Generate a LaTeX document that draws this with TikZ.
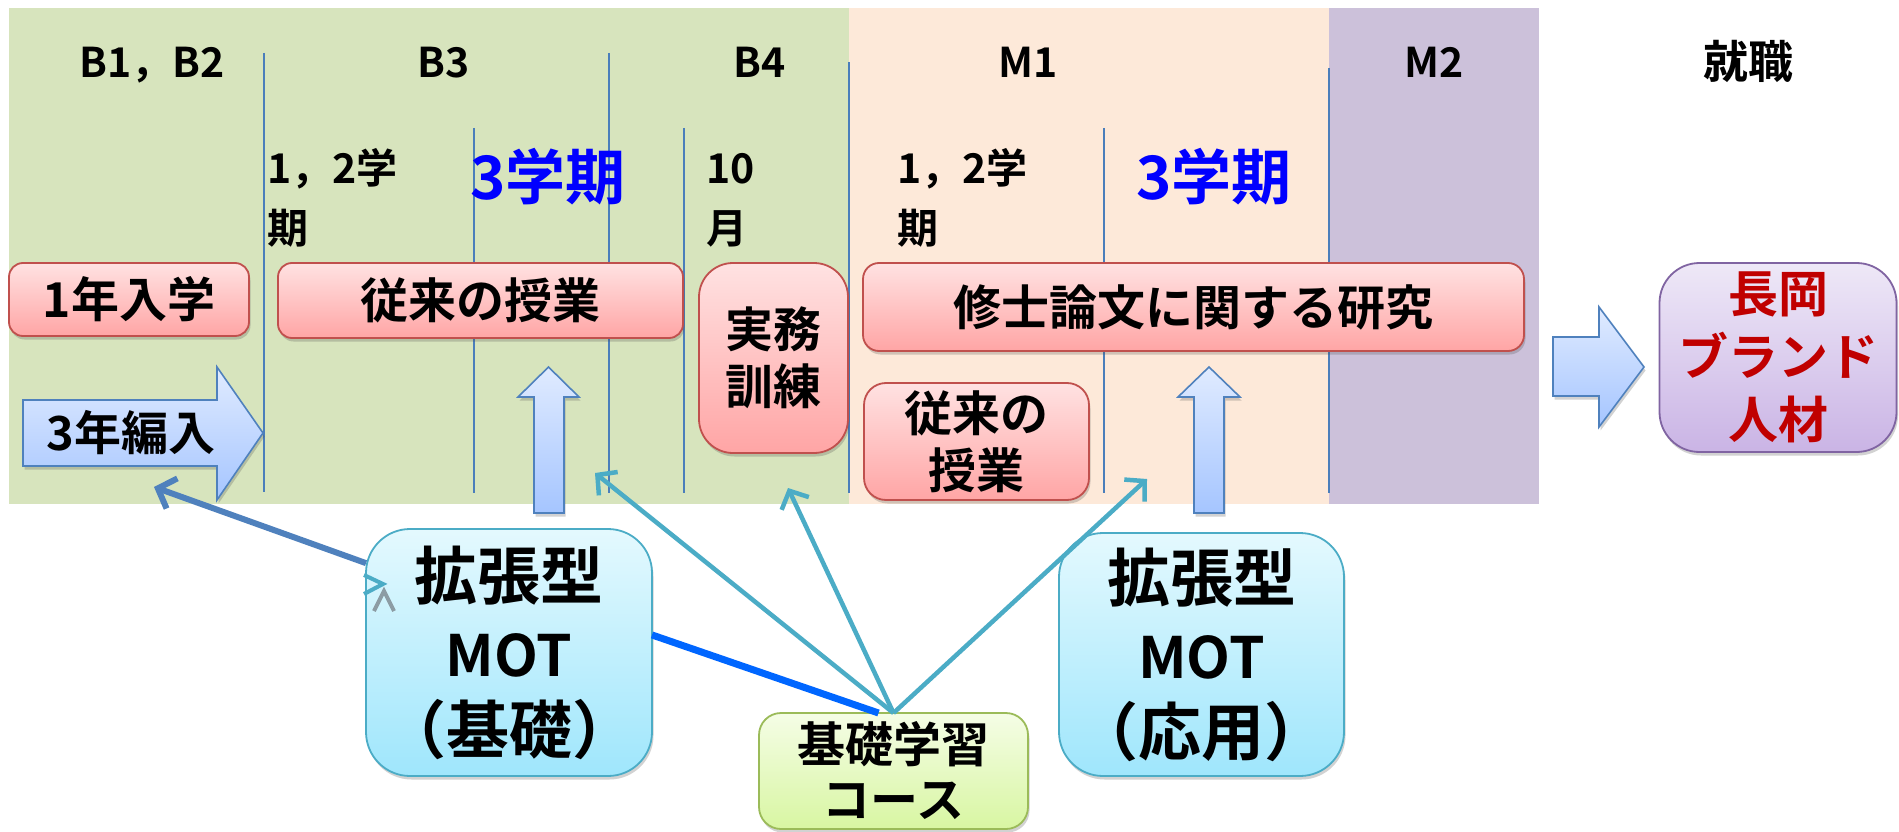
\documentclass[tikz,border=0pt]{standalone}
\usepackage{fontspec}
\setmainfont{Noto Sans CJK JP}[UprightFont={* Bold}]
\usetikzlibrary{arrows.meta,shadows,calc}
\definecolor{bgG}{HTML}{D7E4BD}
\definecolor{bgP}{HTML}{FDE9D9}
\definecolor{bgV}{HTML}{CCC1DA}
\definecolor{vline}{HTML}{4A7EBB}
\definecolor{redB}{HTML}{C0504D}
\definecolor{redT}{HTML}{FFE2E2}
\definecolor{redD}{HTML}{FFA5A5}
\definecolor{cyB}{HTML}{4BACC6}
\definecolor{cyT}{HTML}{E4F9FE}
\definecolor{cyD}{HTML}{9FE6FC}
\definecolor{grB}{HTML}{9BBB59}
\definecolor{grT}{HTML}{F5FDE6}
\definecolor{grD}{HTML}{D8F6A2}
\definecolor{puB}{HTML}{8064A2}
\definecolor{puT}{HTML}{EEE8F7}
\definecolor{puD}{HTML}{CAB4E5}
\definecolor{arB}{HTML}{4F81BD}
\definecolor{arT}{HTML}{E0EBFF}
\definecolor{arD}{HTML}{A5C5FF}
\definecolor{tealA}{HTML}{4BACC6}
\definecolor{steel}{HTML}{4F81BD}
\definecolor{blueL}{HTML}{0066FF}
\definecolor{dred}{HTML}{C00000}
\definecolor{semblue}{HTML}{0000FF}
\definecolor{caret}{HTML}{8C9CA4}
\begin{document}
\begin{tikzpicture}[x=1pt,y=-1pt,
  every node/.style={inner sep=0pt,outer sep=0pt},
  shad/.style={drop shadow={shadow xshift=1.5pt,shadow yshift=-3.5pt,opacity=.25,fill=black!70}},
  redbox/.style={shad,draw=redB,line width=1.8pt,top color=redT,bottom color=redD,rounded corners=14pt,align=center,font=\fontsize{48}{57}\selectfont},
  cybox/.style={shad,draw=cyB,line width=1.8pt,top color=cyT,bottom color=cyD,rounded corners=44pt,align=center,font=\fontsize{63}{77}\selectfont},
  grbox/.style={shad,draw=grB,line width=1.8pt,top color=grT,bottom color=grD,rounded corners=22pt,align=center,font=\fontsize{48}{55}\selectfont},
  pubox/.style={shad,draw=puB,line width=1.8pt,top color=puT,bottom color=puD,rounded corners=40pt,align=center,text=dred,font=\fontsize{50}{63}\selectfont},
  blockarrow/.style={shad,draw=arB,line width=1.6pt,top color=arT,bottom color=arD},
  hdr/.style={anchor=base,font=\fontsize{41}{41}\selectfont},
  sem/.style={anchor=base west,font=\fontsize{41}{41}\selectfont},
  semB/.style={anchor=base west,font=\fontsize{60}{60}\selectfont,text=semblue},
  tealarrow/.style={draw=tealA,line width=4.5pt,-{Straight Barb[length=14pt,width=30pt]}},
  steelarrow/.style={draw=steel,line width=6pt,-{Straight Barb[length=15pt,width=32pt]}},
  vl/.style={draw=vline,line width=1.5pt}]
\useasboundingbox (0,0) rectangle (1899,832);
\fill[white] (0,0) rectangle (1899,832);
% backgrounds
\fill[bgG] (9,8) rectangle (849,504);
\fill[bgP] (849,8) rectangle (1329,504);
\fill[bgV] (1329,8) rectangle (1539,504);
% vertical lines
\draw[vl] (264,53) -- (264,492);
\draw[vl] (474,128) -- (474,493);
\draw[vl] (609,53) -- (609,493);
\draw[vl] (684,128) -- (684,493);
\draw[vl] (849,62) -- (849,493);
\draw[vl] (1104,128) -- (1104,493);
\draw[vl] (1329,68) -- (1329,493);
% headers
\node[hdr] (hB12) at (152,78) {B1，B2};
\node[hdr] (hB3) at (444,78) {B3};
\node[hdr] (hB4) at (760,78) {B4};
\node[hdr] (hM1) at (1028,78) {M1};
\node[hdr] (hM2) at (1434,78) {M2};
\node[hdr,font=\fontsize{45}{45}\selectfont] (hJob) at (1748,79) {就職};
% semester labels
\node[sem] (s1a) at (267,183) {1，2学};
\node[sem] (s1b) at (267,243) {期};
\node[semB] (s3a) at (470,200) {3学期};
\node[sem] (s10a) at (706,183) {10};
\node[sem] (s10b) at (706,243) {月};
\node[sem] (s2a) at (897,183) {1，2学};
\node[sem] (s2b) at (897,243) {期};
\node[semB] (s3b) at (1136,200) {3学期};
% block arrows
\path[blockarrow] (23,400) -- (217,400) -- (217,367) -- (263,433) -- (217,500) -- (217,466) -- (23,466) -- cycle;
\node[font=\fontsize{47}{47}\selectfont] (e3) at (131,433) {3年編入};
\path[blockarrow] (534,513) -- (534,397) -- (518,397) -- (548.5,367) -- (579,397) -- (564,397) -- (564,513) -- cycle;
\path[blockarrow] (1194,513) -- (1194,397) -- (1178,397) -- (1209,367) -- (1240,397) -- (1224,397) -- (1224,513) -- cycle;
\path[blockarrow] (1553,337) -- (1599,337) -- (1599,307) -- (1644,367) -- (1599,427) -- (1599,396) -- (1553,396) -- cycle;
% boxes
\node[redbox,minimum width=240pt,minimum height=73pt] (n1) at (129,299.5) {1年入学};
\node[redbox,minimum width=405pt,minimum height=75pt] (n2) at (480.5,300.5) {従来の授業};
\node[redbox,rounded corners=34pt,minimum width=149pt,minimum height=190pt] (n3) at (773.5,358) {実務\\訓練};
\node[redbox,rounded corners=16pt,minimum width=661pt,minimum height=88pt] (n4) at (1193.5,307) {修士論文に関する研究};
\node[redbox,rounded corners=22pt,minimum width=225pt,minimum height=117pt] (n5) at (976.5,441.5) {従来の\\授業};
\node[pubox,minimum width=237pt,minimum height=189pt] (n6) at (1778,357.5) {長岡\\ブランド\\人材};
\node[cybox,minimum width=286pt,minimum height=247pt] (kb) at (509,652.5) {拡張型\\{\fontsize{57}{77}\selectfont MOT}\\（基礎）};
\node[cybox,minimum width=285pt,minimum height=243pt] (ka) at (1201.5,654.5) {拡張型\\{\fontsize{57}{77}\selectfont MOT}\\（応用）};
\node[grbox,minimum width=269pt,minimum height=116pt] (kc) at (893.5,771) {基礎学習\\コース};
% connectors
\coordinate (tA) at (154,487);
\coordinate (t1) at (595,473);
\coordinate (t2) at (788,488);
\coordinate (t3) at (1147,479);
\draw[steelarrow] (kb.148.5) -- (tA);
\draw[blueL,line width=7pt] (kb.7.8) -- ($(kc.north)+(-15,0)$);
\draw[tealarrow] (kc.north) -- (t1);
\draw[tealarrow] (kc.north) -- (t2);
\draw[tealarrow] (kc.north) -- (t3);
% small marks at the left edge of the box
\draw[tealA,line width=4pt] (364,575) -- (383,584) -- (364,594);
\draw[caret,line width=4pt] (374,611) -- (384,591) -- (394,611);
\end{tikzpicture}
\end{document}
